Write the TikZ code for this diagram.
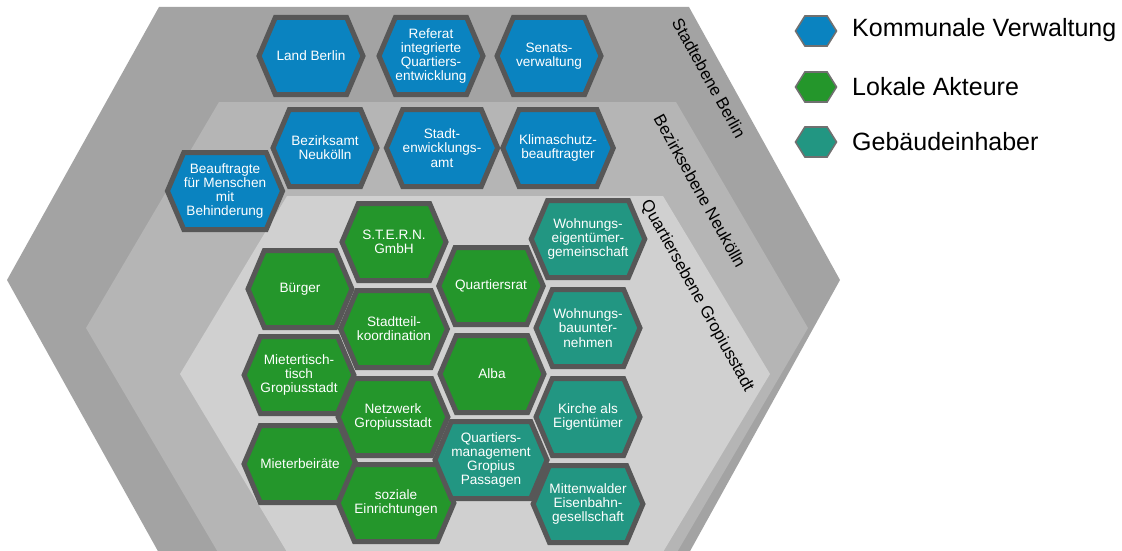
\documentclass[tikz,border=0pt]{standalone}
\usepackage{fontspec}
\setmainfont{Liberation Sans}
\usetikzlibrary{shapes.symbols}
\definecolor{kommunalblue}{HTML}{0A83C0}
\definecolor{lokalgreen}{HTML}{24962B}
\definecolor{eignerteal}{HTML}{229682}
\definecolor{hexedge}{HTML}{575757}
\definecolor{stadtgray}{HTML}{A3A3A3}
\definecolor{bezirkgray}{HTML}{B5B5B5}
\definecolor{quartiergray}{HTML}{D0D0D0}

\begin{document}
\begin{tikzpicture}[
  x=1pt,
  y=-1pt,
  hexa/.style={signal,signal to=west and east,signal pointer angle=134,
    minimum width=104pt,minimum height=77pt,inner sep=0pt,
    draw=hexedge,line width=5pt,text=white,align=center,
    font=\fontsize{13.6}{14.2}\selectfont},
  kommunal/.style={hexa,fill=kommunalblue},
  lokal/.style={hexa,fill=lokalgreen},
  eigner/.style={hexa,fill=eignerteal},
  legendhex/.style={signal,signal to=west and east,signal pointer angle=116,
    minimum width=41pt,minimum height=30pt,inner sep=0pt,
    draw=hexedge!85,line width=1.6pt},
  legendtext/.style={anchor=west,inner sep=0pt,font=\fontsize{25}{28}\selectfont},
  leveltext/.style={rotate=-61,inner sep=0pt,font=\fontsize{16.8}{19}\selectfont}
]
  \useasboundingbox (0,0) rectangle (1122,551);
  \clip (0,0) rectangle (1122,551);

  % Nested planning levels, outermost first.
  \fill[stadtgray] (159,7) -- (689,7) -- (840,280) -- (689,553) -- (159,553) -- (7,280) -- cycle;
  \fill[bezirkgray] (219,102) -- (676,102) -- (808,328) -- (676,554) -- (219,554) -- (86,328) -- cycle;
  \fill[quartiergray] (287,196) -- (663,196) -- (770,374) -- (663,552) -- (287,552) -- (180,374) -- cycle;

  % Level names along the right edges.
  \node[leveltext] (lstadt) at (709,78) {Stadtebene Berlin};
  \node[leveltext] (lbezirk) at (700,191) {Bezirksebene Neukölln};
  \node[leveltext] (lquartier) at (697,296) {Quartiersebene Gropiusstadt};

  % City level.
  \node[kommunal] (berlin) at (311,56) {Land Berlin};
  \node[kommunal] (referat) at (431,56) {Referat\\integrierte\\Quartiers-\\entwicklung};
  \node[kommunal] (senat) at (549,56) {Senats-\\verwaltung};

  % District level.
  \node[kommunal] (bezirksamt) at (325,148) {Bezirksamt\\Neukölln};
  \node[kommunal] (stadtamt) at (442,148) {Stadt-\\enwicklungs-\\amt};
  \node[kommunal] (klima) at (558,148) {Klimaschutz-\\beauftragter};
  \node[kommunal] (beauftragte) at (225,191) {Beauftragte\\für Menschen\\mit\\Behinderung};

  % Neighbourhood level: local actors.
  \node[lokal] (stern) at (394,242) {S.T.E.R.N.\\GmbH};
  \node[lokal] (buerger) at (300,289) {Bürger};
  \node[lokal] (qrat) at (491,286) {Quartiersrat};
  \node[lokal] (stk) at (394,329) {Stadtteil-\\koordination};
  \node[lokal] (mtisch) at (299,375) {Mietertisch-\\tisch\\Gropiusstadt};
  \node[lokal] (alba) at (492,374) {Alba};
  \node[lokal] (netzwerk) at (393,417) {Netzwerk\\Gropiusstadt};
  \node[lokal] (mbeirat) at (300,464) {Mieterbeiräte};
  \node[lokal] (sozial) at (396,503) {soziale\\Einrichtungen};

  % Neighbourhood level: building owners.
  \node[eigner] (weg) at (588,239) {Wohnungs-\\eigentümer-\\gemeinschaft};
  \node[eigner] (wbu) at (588,328) {Wohnungs-\\bauunter-\\nehmen};
  \node[eigner] (kirche) at (588,417) {Kirche als\\Eigentümer};
  \node[eigner] (qm) at (491,460) {Quartiers-\\management\\Gropius\\Passagen};
  \node[eigner] (eisenbahn) at (588,504) {Mittenwalder\\Eisenbahn-\\gesellschaft};

  % Legend.
  \node[legendhex,fill=kommunalblue] (lgk) at (816,31) {};
  \node[legendhex,fill=lokalgreen] (lgl) at (816,87) {};
  \node[legendhex,fill=eignerteal] (lge) at (816,142) {};
  \node[legendtext] (ltk) at (852,30) {Kommunale Verwaltung};
  \node[legendtext] (ltl) at (852,87) {Lokale Akteure};
  \node[legendtext] (lte) at (852,142) {Gebäudeinhaber};
\end{tikzpicture}
\end{document}
